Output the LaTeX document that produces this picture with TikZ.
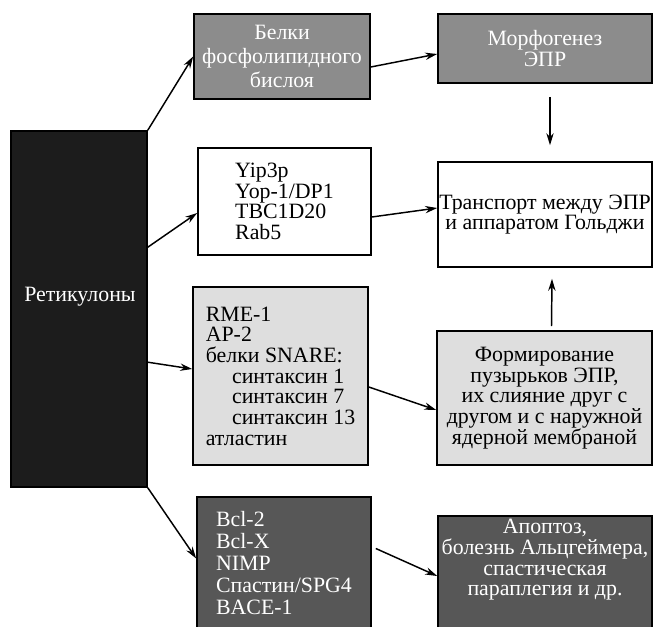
\documentclass[tikz,border=0pt]{standalone}
\usepackage{fontspec}
\setmainfont{Liberation Serif}
\usepackage{tikz}
\usetikzlibrary{arrows.meta,calc}

\begin{document}
\begin{tikzpicture}[x=0.75pt,y=-0.75pt,
  txt/.style={font=\fontsize{16.4}{15.5}\selectfont,align=center,inner sep=0pt},
  block/.style={txt,draw=black,line width=1.2pt},
  midbox/.style={block,fill=black!45,text=white},
  plainbox/.style={block,fill=white},
  lightbox/.style={block,fill=black!13},
  darkbox/.style={block,fill=black!66,text=white},
  flow/.style={-{Stealth[length=9pt,width=5.5pt]},line width=1.1pt}]
\useasboundingbox (0,0) rectangle (653,627);
% left column
\node[block,fill=black!89,minimum width=102pt,minimum height=267pt] (retic) at (79,309) {};
\node[txt,text=white] (reticname) at (80,297) {Ретикулоны};
% middle column
\node[midbox,minimum width=132pt,minimum height=63.75pt,font=\fontsize{16.4}{18}\selectfont] (bilayer) at (282,56.5) {Белки\\фосфолипидного\\бислоя};
\node[plainbox,align=left,minimum width=129.75pt,minimum height=80.25pt] (yip) at (284.5,201.5) {Yip3p\\Yop-1/DP1\\TBC1D20\\Rab5};
\node[lightbox,align=left,minimum width=131.25pt,minimum height=133.5pt] (snare) at (280.5,376) {RME-1\\AP-2\\белки SNARE:\\\hspace*{1.2em}синтаксин 1\\\hspace*{1.2em}синтаксин 7\\\hspace*{1.2em}синтаксин 13\\атластин};
\node[darkbox,align=left,minimum width=130.5pt,minimum height=99.75pt,font=\fontsize{16.4}{16.5}\selectfont] (bcl) at (284,563.5) {Bcl-2\\Bcl-X\\NIMP\\Спастин/SPG4\\BACE-1};
% right column
\node[midbox,minimum width=160.5pt,minimum height=51.75pt] (morph) at (545,48.5) {Морфогенез\\ЭПР};
\node[plainbox,minimum width=160.5pt,minimum height=78.75pt] (transport) at (545,214.5) {Транспорт между ЭПР\\и аппаратом Гольджи};
\node[lightbox,minimum width=161.25pt,minimum height=100.5pt] (vesicle) at (544.5,398) {Формирование\\пузырьков ЭПР,\\их слияние друг с\\другом и с наружной\\ядерной мембраной};
\node[darkbox,minimum width=160.5pt,minimum height=85.5pt] (apopt) at (545,573) {};
\node[txt,text=white] (apopttext) at (545,560) {Апоптоз,\\болезнь Альцгеймера,\\спастическая\\параплегия и др.};
% connectors
\draw[flow] (retic.north east) -- (bilayer.west);
\draw[flow] ($(retic.north east)+(0,117)$) -- ($(yip.west)+(0,11.5)$);
\draw[flow] ($(retic.north east)+(0,232)$) -- ($(snare.west)+(0,-7)$);
\draw[flow] (retic.south east) -- ($(bcl.west)+(0,-5)$);
\draw[flow] ($(bilayer.east)+(0,10.5)$) -- ($(morph.west)+(0,5.5)$);
\draw[flow] ($(yip.east)+(0,15.5)$) -- ($(transport.west)+(0,-6.5)$);
\draw[flow] ($(snare.east)+(0,11)$) -- ($(vesicle.west)+(0,12)$);
\draw[flow] ($(bcl.east)+(4,-15)$) -- ($(apopt.west)+(0,3)$);
\draw[flow] ($(morph.south)+(5,13)$) -- ($(transport.north)+(5,-16)$);
\draw[flow] ($(vesicle.north)+(7,-4)$) -- ($(transport.south)+(7,11)$);
\end{tikzpicture}
\end{document}
